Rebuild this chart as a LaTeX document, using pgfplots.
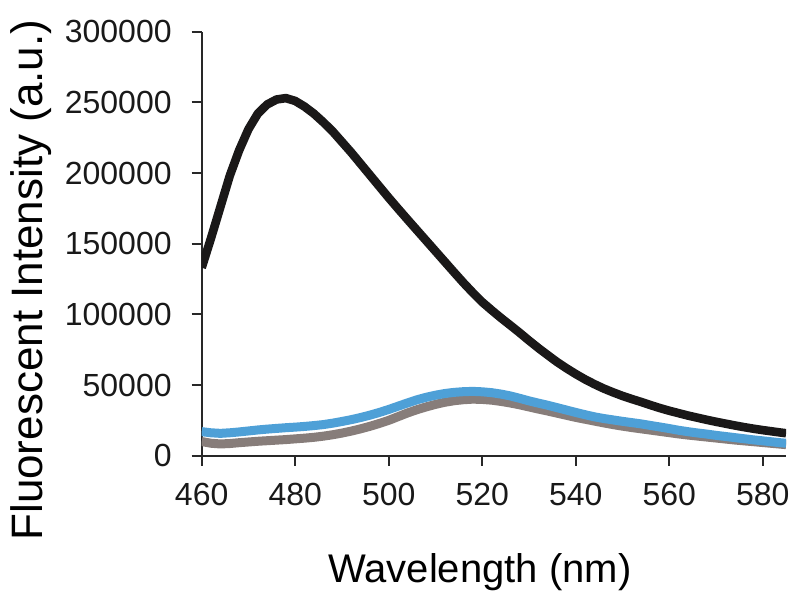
\documentclass[border=0pt]{standalone}
\usepackage{pgfplots}
\pgfplotsset{compat=1.18}
\usepackage{fontspec}
\setmainfont{Liberation Sans}
\definecolor{cblack}{RGB}{26,24,24}
\definecolor{cblue}{RGB}{78,160,215}
\definecolor{cgray}{RGB}{135,125,122}
\definecolor{caxis}{RGB}{40,40,40}
\begin{document}
\begin{tikzpicture}
\useasboundingbox (-100.85pt,-73.65pt) rectangle (299.15pt,227.85pt);
\begin{axis}[
  at={(0,0)}, anchor=south west,
  scale only axis, width=292.2pt, height=212pt,
  xmin=460, xmax=585, ymin=0, ymax=300000,
  axis lines=left, axis line style={-, line width=1pt, color=caxis},
  every tick/.style={line width=1pt, color=caxis},
  tick align=outside, major tick length=5pt,
  xtick={460,480,...,580}, ytick={0,50000,...,300000},
  scaled y ticks=false,
  /pgf/number format/assume math mode=true,
  /pgf/number format/fixed, /pgf/number format/1000 sep={},
  tick label style={font=\fontsize{16}{16}\selectfont, text=black!90},
  xticklabel style={yshift=-5pt},
  yticklabel style={xshift=-6.5pt},
  xlabel={Wavelength (nm)}, ylabel={Fluorescent Intensity (a.u.)},
  x label style={font=\fontsize{20}{20}\selectfont, at={(axis description cs:0.476,-0.300)}, anchor=base},
  y label style={font=\fontsize{22}{22}\selectfont, at={(axis description cs:-0.2716,0.414)}, rotate=0, anchor=base},
  clip=true,
]
\addplot[cgray, line width=4.5pt, line join=round] coordinates {
(460,10000)(462,8800)(464,8300)(466,8600)(468,9200)(470,9700)(472,10200)(474,10600)(476,11000)(478,11400)(480,11900)(482,12400)(484,13000)(486,13800)(488,14800)(490,16000)(492,17400)(494,19000)(496,20800)(498,22800)(500,25000)(502,27600)(504,30200)(506,32500)(508,34500)(510,36300)(512,37800)(514,38900)(516,39600)(518,40000)(520,39800)(522,39300)(524,38400)(526,37300)(528,36000)(530,34500)(532,33000)(534,31600)(536,30100)(538,28600)(540,27100)(542,25800)(544,24500)(546,23200)(548,22000)(550,20900)(552,19900)(554,19000)(556,18100)(558,17200)(560,16300)(562,15400)(564,14600)(566,13900)(568,13200)(570,12500)(572,11800)(574,11100)(576,10500)(578,9900)(580,9300)(582,8700)(584,8100)(585,7800)
};
\addplot[cblue, line width=4.5pt, line join=round] coordinates {
(460,17000)(462,16200)(464,15800)(466,16200)(468,16800)(470,17500)(472,18200)(474,18800)(476,19300)(478,19800)(480,20200)(482,20700)(484,21300)(486,22000)(488,23000)(490,24200)(492,25500)(494,27000)(496,28700)(498,30600)(500,32700)(502,35000)(504,37300)(506,39500)(508,41300)(510,42800)(512,44000)(514,44800)(516,45300)(518,45500)(520,45200)(522,44600)(524,43600)(526,42300)(528,40600)(530,38800)(532,37200)(534,35700)(536,34000)(538,32300)(540,30600)(542,29000)(544,27500)(546,26300)(548,25300)(550,24300)(552,23400)(554,22500)(556,21400)(558,20300)(560,19200)(562,18000)(564,17000)(566,16100)(568,15300)(570,14400)(572,13600)(574,12800)(576,12000)(578,11200)(580,10500)(582,9800)(584,9100)(585,8800)
};
\addplot[cblack, line width=4.3pt, line join=round] coordinates {
(460,133000)(462,154000)(464,176000)(466,198000)(468,216000)(470,231000)(472,242000)(474,248500)(476,252000)(478,253000)(480,251000)(482,247000)(484,242000)(486,236000)(488,229500)(490,222000)(492,214500)(494,206500)(496,198500)(498,190500)(500,182500)(502,174800)(504,167200)(506,159700)(508,152200)(510,144700)(512,137200)(514,129700)(516,122300)(518,115300)(520,108700)(522,103000)(524,97500)(526,92300)(528,87000)(530,81500)(532,76200)(534,71200)(536,66300)(538,61900)(540,57800)(542,54000)(544,50600)(546,47500)(548,44800)(550,42300)(552,40100)(554,38000)(556,35800)(558,33700)(560,31800)(562,30100)(564,28400)(566,26900)(568,25400)(570,24000)(572,22700)(574,21400)(576,20200)(578,19100)(580,18100)(582,17200)(584,16300)(585,15900)
};
\end{axis}
\end{tikzpicture}
\end{document}
